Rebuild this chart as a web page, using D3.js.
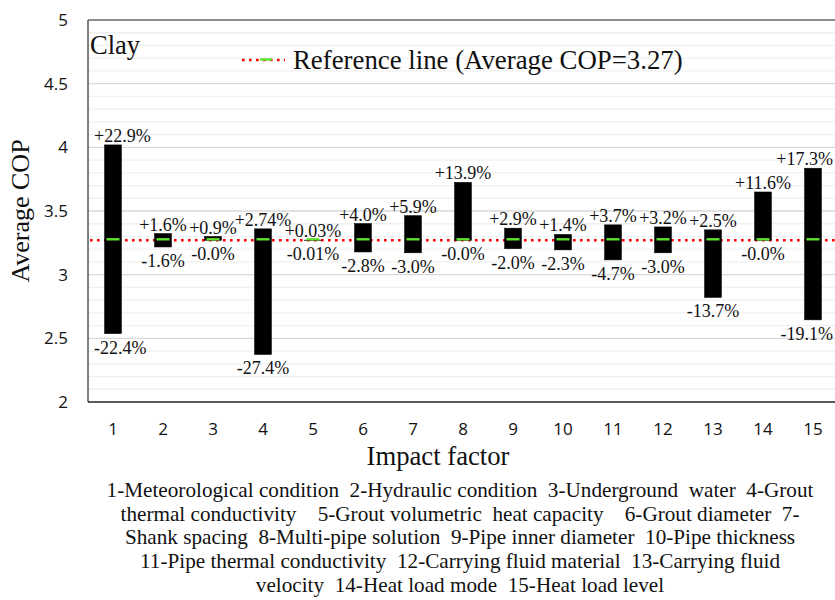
<!DOCTYPE html>
<html>
<head>
<meta charset="utf-8">
<script src="https://cdn.jsdelivr.net/npm/d3@7"></script>
</head>
<body style="margin:0">
<svg id="chart" width="835" height="600"></svg>
<script>
// Impact factors on the horizontal axis
const factors = ["1","2","3","4","5","6","7","8","9","10","11","12","13","14","15"];

// Relative change of average COP (%) from the reference, upper and lower ends
const upperChange = [22.9, 1.6, 0.9, 2.74, 0.03, 4.0, 5.9, 13.9, 2.9, 1.4, 3.7, 3.2, 2.5, 11.6, 17.3];
const lowerChange = [-22.4, -1.6, -0.0, -27.4, -0.01, -2.8, -3.0, -0.0, -2.0, -2.3, -4.7, -3.0, -13.7, -0.0, -19.1];

// Text of the data labels
const upperLabels = ["+22.9%","+1.6%","+0.9%","+2.74%","+0.03%","+4.0%","+5.9%","+13.9%","+2.9%","+1.4%","+3.7%","+3.2%","+2.5%","+11.6%","+17.3%"];
const lowerLabels = ["-22.4%","-1.6%","-0.0%","-27.4%","-0.01%","-2.8%","-3.0%","-0.0%","-2.0%","-2.3%","-4.7%","-3.0%","-13.7%","-0.0%","-19.1%"];

// Reference average COP
const referenceCOP = 3.27;

// Y axis ticks
const yTicks = [2, 2.5, 3, 3.5, 4, 4.5, 5];
const yMinorTicks = d3.range(20, 51).map(v => v / 10);

const legendText = "Reference line (Average COP=3.27)";
const soilLabel = "Clay";
const xTitle = "Impact factor";
const yTitle = "Average COP";

const noteLines = [
  "1-Meteorological condition\u00a0 2-Hydraulic condition\u00a0 3-Underground\u00a0 water\u00a0 4-Grout",
  "thermal conductivity\u00a0\u00a0\u00a0 5-Grout volumetric\u00a0 heat capacity\u00a0\u00a0\u00a0 6-Grout diameter\u00a0 7-",
  "Shank spacing\u00a0 8-Multi-pipe solution\u00a0 9-Pipe inner diameter\u00a0 10-Pipe thickness",
  "11-Pipe thermal conductivity\u00a0 12-Carrying fluid material\u00a0 13-Carrying fluid",
  "velocity\u00a0 14-Heat load mode\u00a0 15-Heat load level"
];

const data = factors.map((f, i) => ({
  factor: f,
  index: i,
  top: referenceCOP * (1 + upperChange[i] / 100),
  bottom: referenceCOP * (1 + lowerChange[i] / 100),
  upLabel: upperLabels[i],
  lowLabel: lowerLabels[i]
}));

const svg = d3.select("#chart");
const SERIF = '"Liberation Serif"';
const SANS = '"Open Sans"';

const plot = { left: 88, top: 20, right: 838, bottom: 402 };

const x = d3.scaleBand()
  .domain(factors)
  .range([plot.left, plot.right])
  .paddingInner(0.666)
  .paddingOuter(0.333);

const y = d3.scaleLinear().domain([2, 5]).range([plot.bottom, plot.top]);

// Gridlines
svg.append("g").selectAll("line").data(yMinorTicks.filter(v => Math.abs(v * 2 - Math.round(v * 2)) > 1e-6))
  .join("line")
  .attr("x1", plot.left).attr("x2", plot.right)
  .attr("y1", d => y(d)).attr("y2", d => y(d))
  .attr("stroke", "#f0f0f0").attr("stroke-width", 1.3);

svg.append("g").selectAll("line").data(yTicks.slice(1, -1))
  .join("line")
  .attr("x1", plot.left).attr("x2", plot.right)
  .attr("y1", d => y(d)).attr("y2", d => y(d))
  .attr("stroke", "#d9d9d9").attr("stroke-width", 1.3);

// Frame
svg.append("line").attr("x1", plot.left).attr("x2", plot.right)
  .attr("y1", plot.top).attr("y2", plot.top)
  .attr("stroke", "#666").attr("stroke-width", 1.5);
svg.append("line").attr("x1", plot.left).attr("x2", plot.left)
  .attr("y1", plot.top).attr("y2", plot.bottom)
  .attr("stroke", "#555").attr("stroke-width", 1.5);
svg.append("line").attr("x1", plot.left).attr("x2", plot.right)
  .attr("y1", plot.bottom).attr("y2", plot.bottom)
  .attr("stroke", "#222").attr("stroke-width", 1.5);

// Reference line
const dotStyle = sel => sel.attr("stroke", "#ff0000").attr("stroke-width", 2.6)
  .attr("stroke-dasharray", "2.6 4.4");
svg.append("line")
  .attr("x1", plot.left + 2).attr("x2", plot.right)
  .attr("y1", y(referenceCOP)).attr("y2", y(referenceCOP))
  .call(dotStyle);

// Range bars
svg.append("g").selectAll("rect").data(data).join("rect")
  .attr("x", d => x(d.factor))
  .attr("width", x.bandwidth())
  .attr("y", d => y(d.top))
  .attr("height", d => y(d.bottom) - y(d.top))
  .attr("fill", "#000").attr("stroke", "#000").attr("stroke-width", 0.6);

// Reference marker on each bar
const greenW = x.bandwidth() * 0.78;
svg.append("g").selectAll("line").data(data).join("line")
  .attr("x1", d => x(d.factor) + (x.bandwidth() - greenW) / 2)
  .attr("x2", d => x(d.factor) + (x.bandwidth() + greenW) / 2)
  .attr("y1", y(referenceCOP) - 1).attr("y2", y(referenceCOP) - 1)
  .attr("stroke", "#5ee22c").attr("stroke-width", 2.4);

function serifText(sel, size) {
  sel.style("font-family", SERIF).style("font-size", size + "px").style("fill", "#111");
}
function sansText(sel, size) {
  sel.style("font-family", SANS).style("font-size", size + "px").style("fill", "#111");
}

// Data labels; the first and last are kept inside the plot edges
const last = factors.length - 1;
const labelX = d => d.index === 0 ? plot.left + 6
  : d.index === last ? 833 : x(d.factor) + x.bandwidth() / 2;
const labelAnchor = d => d.index === 0 ? "start" : d.index === last ? "end" : "middle";

svg.selectAll("text.up").data(data).join("text").attr("class", "up")
  .call(serifText, 18)
  .attr("x", labelX).attr("text-anchor", labelAnchor)
  .attr("y", d => y(d.top) - 3)
  .text(d => d.upLabel);
svg.selectAll("text.low").data(data).join("text").attr("class", "low")
  .call(serifText, 18)
  .attr("x", labelX).attr("text-anchor", labelAnchor)
  .attr("y", d => y(d.bottom) + 20)
  .text(d => d.lowLabel);

// Axis tick labels
const yAxis = d3.axisLeft(y).tickValues(yTicks).tickSize(0).tickPadding(20).tickFormat(d3.format("~g"));
svg.append("g").attr("transform", `translate(${plot.left},0)`).call(yAxis)
  .call(g => g.select(".domain").remove())
  .selectAll("text").call(sansText, 17);

const xAxis = d3.axisBottom(x).tickSize(0).tickPadding(21);
svg.append("g").attr("transform", `translate(0,${plot.bottom})`).call(xAxis)
  .call(g => g.select(".domain").remove())
  .selectAll("text").call(sansText, 17);

// Axis titles
svg.append("text")
  .attr("transform", `translate(29,${(plot.top + plot.bottom) / 2}) rotate(-90)`)
  .attr("text-anchor", "middle")
  .call(serifText, 26)
  .text(yTitle);

svg.append("text")
  .attr("x", 438).attr("y", 465)
  .attr("text-anchor", "middle")
  .call(serifText, 26.7)
  .text(xTitle);

// Soil type
svg.append("text")
  .attr("x", 90).attr("y", 54)
  .call(serifText, 26.5)
  .text(soilLabel);

// Legend
svg.append("line")
  .attr("x1", 242).attr("x2", 285).attr("y1", 60).attr("y2", 60)
  .call(dotStyle);
svg.append("line")
  .attr("x1", 260).attr("x2", 272).attr("y1", 59.5).attr("y2", 59.5)
  .attr("stroke", "#5ee22c").attr("stroke-width", 2.4);
svg.append("text")
  .attr("x", 293).attr("y", 69)
  .call(serifText, 26.8)
  .text(legendText);

// Factor key
svg.selectAll("text.note").data(noteLines).join("text").attr("class", "note")
  .attr("x", 460)
  .attr("y", (d, i) => 497 + i * 23.7)
  .attr("text-anchor", "middle")
  .call(serifText, 21.2)
  .text(d => d);
</script>
</body>
</html>
